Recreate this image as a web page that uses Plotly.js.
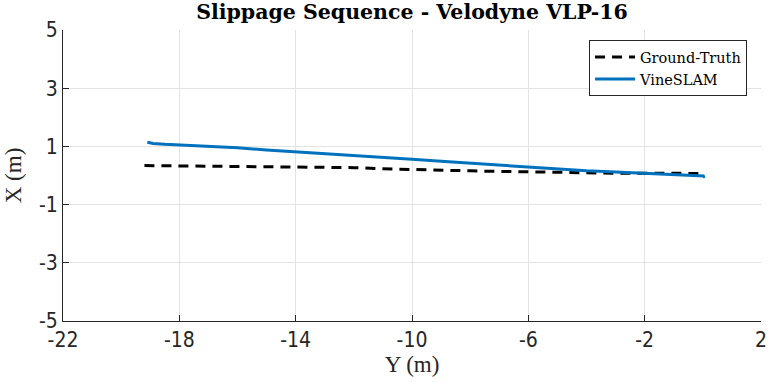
<!DOCTYPE html>
<html>
<head>
<meta charset="utf-8">
<script src="https://cdn.plot.ly/plotly-3.0.1.min.js"></script>
<style>html,body{margin:0;padding:0;background:#fff;}#chart{width:769px;height:382px;}</style>
</head>
<body>
<div id="chart"></div>
<script>
// Ground-Truth trajectory
var gtY = [-19.2, -18, -17, -16, -15, -14, -13, -12, -11, -10, -9, -8, -7, -6, -5, -4, -3, -2, -1, 0.05];
var gtX = [0.34, 0.33, 0.33, 0.32, 0.31, 0.30, 0.29, 0.27, 0.23, 0.20, 0.18, 0.16, 0.14, 0.12, 0.10, 0.09, 0.08, 0.08, 0.07, 0.07];
// VineSLAM trajectory
var vsY = [-19.1, -18.9, -18.5, -18, -17, -16, -15, -14, -13, -12, -11, -10, -9, -8, -7, -6, -5, -4, -3, -2, -1, -0.3, 0.05, 0.0];
var vsX = [1.14, 1.10, 1.07, 1.05, 1.00, 0.95, 0.88, 0.82, 0.76, 0.69, 0.62, 0.56, 0.49, 0.42, 0.35, 0.28, 0.21, 0.16, 0.12, 0.07, 0.04, 0.01, -0.02, -0.07];
var xTicks = [-22, -18, -14, -10, -6, -2, 2];
var yTicks = [-5, -3, -1, 1, 3, 5];

var serif = '"DejaVu Serif", "Liberation Serif", serif';
var lserif = '"Liberation Serif", "DejaVu Serif", serif';
var sans = '"DejaVu Sans Condensed", "Liberation Sans", sans-serif';

var traces = [
  {x: gtY, y: gtX, mode: 'lines', name: 'Ground-Truth',
   line: {color: '#000000', width: 3, dash: '10px,7px'}},
  {x: vsY, y: vsX, mode: 'lines', name: 'VineSLAM',
   line: {color: '#0072BD', width: 3}}
];

var layout = {
  width: 769, height: 382,
  margin: {l: 63, r: 8, t: 30, b: 61},
  paper_bgcolor: '#ffffff', plot_bgcolor: '#ffffff',
  showlegend: true,
  title: {text: '<b>Slippage Sequence - Velodyne VLP-16</b>', font: {family: serif, size: 20.5, color: '#000'},
          x: 0.5, xref: 'paper', y: 0.968, yref: 'container', yanchor: 'middle'},
  xaxis: {
    range: [-22, 2], tickvals: xTicks, ticktext: xTicks.map(String),
    showgrid: true, gridcolor: '#e3e3e3', gridwidth: 1,
    zeroline: false, showline: true, linecolor: '#262626', linewidth: 1,
    ticks: 'inside', ticklen: 6, tickcolor: '#262626',
    tickfont: {family: sans, size: 21, color: '#262626'},
    title: {text: 'Y (m)', font: {family: lserif, size: 23, color: '#262626'}, standoff: 2}
  },
  yaxis: {
    range: [-5, 5], tickvals: yTicks, ticktext: yTicks.map(String),
    showgrid: true, gridcolor: '#e3e3e3', gridwidth: 1,
    zeroline: false, showline: true, linecolor: '#262626', linewidth: 1,
    ticks: 'inside', ticklen: 6, tickcolor: '#262626',
    tickfont: {family: sans, size: 21, color: '#262626'},
    title: {text: 'X (m)', font: {family: lserif, size: 23, color: '#262626'}, standoff: 10}
  },
  legend: {
    x: 0.98, y: 0.965, xanchor: 'right', yanchor: 'top',
    bgcolor: '#ffffff', bordercolor: '#262626', borderwidth: 1,
    font: {family: serif, size: 14.5, color: '#000'},
    tracegroupgap: 0, itemwidth: 40, entrywidth: 145
  }
};

Plotly.newPlot('chart', traces, layout, {displayModeBar: false, staticPlot: true});
</script>
</body>
</html>
